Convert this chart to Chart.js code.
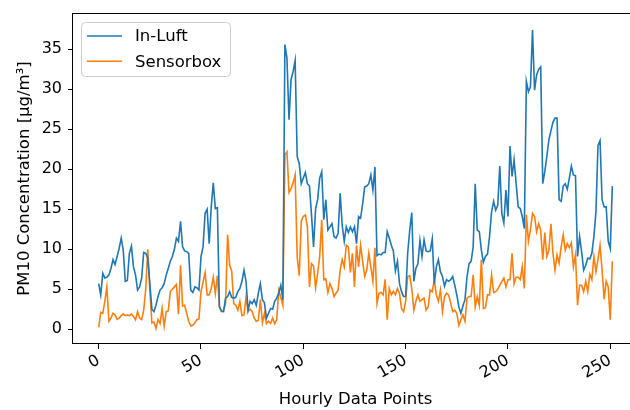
<!DOCTYPE html>
<html>
<head>
<meta charset="utf-8">
<script src="https://cdn.jsdelivr.net/npm/chart.js@4.4.1/dist/chart.umd.min.js"></script>
<style>
  html, body { margin: 0; padding: 0; background: #fff; overflow: hidden; }
  #wrap { width: 630px; height: 410px; overflow: hidden; }
</style>
</head>
<body>
<div id="wrap"><canvas id="pm" width="646" height="410"></canvas></div>
<script>
// hourly PM10 readings, one value per hour (index 0..251)
const inLuft = [
  5.7, 4.3, 7.0, 6.4, 6.5, 6.8, 7.6, 8.7, 8.1, 9.1,
  10.1, 11.4, 9.9, 6.0, 6.1, 9.5, 10.4, 7.8, 6.8, 4.9,
  5.3, 6.4, 9.6, 9.5, 8.9, 5.7, 2.5, 2.2, 3.0, 4.1,
  4.9, 5.2, 5.7, 6.8, 7.6, 8.5, 9.1, 10.0, 11.4, 11.0,
  13.5, 10.3, 9.8, 9.7, 9.5, 4.9, 4.6, 5.3, 5.2, 4.9,
  9.1, 10.3, 14.5, 15.0, 10.7, 15.3, 18.3, 15.1, 15.2, 2.8,
  2.3, 2.2, 3.9, 4.1, 4.7, 4.0, 3.9, 4.0, 4.7, 5.1,
  6.0, 7.4, 6.0, 2.4, 3.5, 3.2, 3.7, 3.0, 4.5, 5.7,
  3.7, 3.3, 1.4, 2.0, 2.6, 2.5, 3.5, 3.9, 4.5, 5.5,
  3.7, 35.6, 33.9, 26.2, 31.2, 32.2, 33.6, 21.6, 20.7, 18.2,
  18.9, 19.6, 18.2, 17.9, 14.3, 10.3, 15.1, 16.2, 18.9, 19.7,
  13.7, 16.2, 12.4, 12.8, 13.2, 11.6, 11.4, 12.0, 17.0, 13.0,
  11.0, 12.8, 12.1, 12.8, 12.2, 12.8, 10.7, 14.1, 13.9, 15.7,
  17.8, 17.9, 18.2, 19.3, 17.4, 20.3, 9.2, 9.4, 9.3, 9.6,
  9.6, 12.2, 11.4, 10.5, 9.8, 7.3, 8.5, 5.7, 4.7, 4.1,
  4.1, 9.5, 12.4, 14.6, 6.0, 7.6, 8.2, 11.1, 9.1, 11.2,
  9.8, 9.7, 9.8, 11.3, 5.7, 7.8, 8.7, 7.2, 6.6, 5.4,
  6.2, 6.0, 6.2, 6.6, 5.5, 4.3, 2.8, 2.0, 2.9, 3.7,
  6.6, 8.2, 8.5, 10.3, 18.2, 12.4, 12.2, 9.9, 8.4, 9.1,
  9.4, 11.6, 14.7, 16.0, 14.9, 15.5, 20.4, 14.5, 13.3, 17.4,
  14.1, 22.9, 19.1, 21.2, 18.2, 15.3, 15.1, 14.1, 12.6, 31.0,
  29.7, 30.3, 37.4, 29.9, 31.8, 32.5, 32.8, 18.2, 19.7, 21.6,
  23.7, 24.8, 25.9, 26.4, 26.4, 16.2, 16.0, 17.9, 18.2, 17.5,
  18.9, 20.4, 19.3, 19.2, 9.1, 11.6, 9.7, 7.4, 8.0, 8.9,
  8.8, 9.5, 11.6, 14.7, 23.0, 23.6, 16.2, 15.3, 15.3, 11.0,
  10.1, 17.9
];
const sensorbox = [
  0.25, 2.1, 2.0, 3.5, 5.3, 1.0, 1.4, 2.0, 1.8, 1.25,
  1.4, 1.7, 1.9, 1.7, 1.8, 1.7, 1.9, 1.6, 1.2, 2.2,
  1.4, 1.2, 2.4, 5.1, 10.0, 4.9, 0.8, 0.9, 0.1, 1.2,
  0.7, 2.6, 0.4, 2.2, 2.3, 4.7, 5.0, 5.3, 5.6, 1.9,
  8.0, 2.9, 3.0, 2.0, 1.0, 0.4, 0.5, 0.8, 1.2, 1.3,
  4.7, 5.9, 7.1, 4.3, 4.3, 5.1, 6.5, 4.5, 6.7, 2.8,
  2.2, 2.3, 3.2, 11.8, 8.0, 7.3, 3.2, 3.0, 2.4, 3.5,
  1.7, 1.8, 4.0, 2.2, 2.5, 2.2, 1.4, 1.0, 1.1, 3.7,
  0.8, 2.0, 0.7, 1.0, 0.75, 1.4, 0.7, 1.2, 4.9, 4.0,
  3.0, 21.8, 22.2, 17.1, 17.6, 18.3, 19.3, 9.1, 6.7, 13.5,
  14.1, 14.3, 12.8, 5.3, 8.2, 7.9, 5.2, 7.0, 9.1, 13.7,
  6.2, 6.3, 4.6, 5.7, 5.1, 4.1, 4.5, 4.9, 7.4, 8.7,
  7.8, 10.5, 10.3, 7.1, 9.5, 5.3, 10.5, 7.8, 10.5, 8.5,
  6.6, 7.4, 9.5, 7.8, 6.0, 10.2, 3.25, 4.5, 4.6, 4.3,
  6.25, 1.2, 5.1, 4.3, 4.75, 4.3, 5.1, 4.5, 2.6, 2.2,
  3.5, 6.6, 6.7, 5.1, 2.4, 3.5, 4.3, 3.5, 3.7, 3.9,
  2.4, 2.8, 4.9, 4.7, 6.2, 4.3, 3.5, 4.9, 2.2, 4.1,
  4.5, 4.3, 3.3, 2.2, 2.4, 2.0, 0.5, 1.2, 1.8, 1.0,
  3.9, 4.1, 4.1, 6.8, 2.8, 4.1, 3.0, 8.7, 2.6, 2.7,
  4.3, 4.3, 6.8, 4.6, 4.7, 5.0, 5.5, 6.0, 6.4, 5.3,
  6.2, 6.2, 9.5, 5.7, 6.5, 6.5, 6.2, 7.8, 5.1, 14.3,
  11.0, 12.5, 14.5, 14.1, 12.2, 13.2, 12.4, 8.7, 12.1, 9.1,
  9.9, 13.2, 9.5, 7.4, 9.3, 8.3, 10.3, 11.8, 9.9, 10.7,
  10.2, 10.8, 7.8, 9.3, 3.0, 5.5, 5.5, 4.7, 6.0, 4.7,
  6.9, 6.2, 9.1, 7.2, 8.75, 10.5, 7.4, 3.75, 6.0, 5.3,
  1.2, 8.5
];
const seriesNames = ['In-Luft', 'Sensorbox'];
const seriesColors = ['#1f77b4', '#ff7f0e'];
const xTicks = [0, 50, 100, 150, 200, 250];
const yTicks = [0, 5, 10, 15, 20, 25, 30, 35];
const xLabel = 'Hourly Data Points';
const yLabel = 'PM10 Concentration [µg/m³]';

const FONT = "'DejaVu Sans', sans-serif";
Chart.defaults.font.family = FONT;
Chart.defaults.color = '#000';

const toPoints = arr => arr.map((v, i) => ({ x: i, y: v }));

// black frame on all four sides of the plot area
const frame = {
  id: 'frame',
  afterDraw(chart) {
    const { ctx, chartArea: a } = chart;
    ctx.save();
    ctx.strokeStyle = '#000';
    ctx.lineWidth = 1;
    ctx.strokeRect(Math.round(a.left) - 0.5, Math.round(a.top) + 0.5,
      Math.round(a.right - a.left) + 1, Math.round(a.bottom - a.top) - 1);
    ctx.restore();
  }
};

// boxed legend in the upper left corner of the plot
const boxLegend = {
  id: 'boxLegend',
  afterDraw(chart) {
    const { ctx, chartArea } = chart;
    const x = chartArea.left + 8, y = chartArea.top + 9, w = 149, h = 54;
    ctx.save();
    ctx.beginPath();
    ctx.roundRect(x + 0.5, y + 0.5, w, h, 4);
    ctx.fillStyle = 'rgba(255,255,255,0.8)';
    ctx.fill();
    ctx.strokeStyle = '#cccccc';
    ctx.lineWidth = 1;
    ctx.stroke();
    ctx.font = '16.5px ' + FONT;
    ctx.textBaseline = 'middle';
    chart.data.datasets.forEach((ds, i) => {
      const ly = y + 14 + i * 25.3;
      ctx.strokeStyle = ds.borderColor;
      ctx.lineWidth = ds.borderWidth;
      ctx.beginPath();
      ctx.moveTo(x + 6, ly);
      ctx.lineTo(x + 41, ly);
      ctx.stroke();
      ctx.fillStyle = '#000';
      ctx.fillText(ds.label, x + 54, ly + 1);
    });
    ctx.restore();
  }
};

new Chart(document.getElementById('pm'), {
  type: 'line',
  data: {
    datasets: [inLuft, sensorbox].map((arr, i) => ({
      label: seriesNames[i],
      data: toPoints(arr),
      borderColor: seriesColors[i],
      borderWidth: 1.6,
      pointRadius: 0,
      tension: 0,
      fill: false
    }))
  },
  options: {
    responsive: false,
    animation: false,
    devicePixelRatio: 1,
    layout: { padding: { left: 0, right: 8, top: 13, bottom: 0 } },
    plugins: { legend: { display: false }, tooltip: { enabled: false } },
    scales: {
      x: {
        type: 'linear',
        min: -12.55,
        max: 263.55,
        afterBuildTicks: s => { s.ticks = xTicks.map(v => ({ value: v })); },
        afterFit: s => { s.height = 66; s.paddingLeft = 0; s.paddingRight = 0; },
        border: { display: false },
        grid: { drawOnChartArea: false, drawTicks: true, tickLength: 5, color: '#000', lineWidth: 1 },
        ticks: { autoSkip: false, minRotation: 30, maxRotation: 30, padding: 2, font: { size: 16 } },
        title: { display: true, text: xLabel, font: { size: 16.5 }, padding: { top: 0, bottom: 0 } }
      },
      y: {
        min: -1.84,
        max: 39.54,
        afterBuildTicks: s => { s.ticks = yTicks.map(v => ({ value: v })); },
        afterFit: s => { s.width = 73; s.paddingTop = 0; s.paddingBottom = 0; },
        border: { display: false },
        grid: { drawOnChartArea: false, drawTicks: true, tickLength: 5, color: '#000', lineWidth: 1 },
        ticks: { padding: 6, font: { size: 16 } },
        title: { display: true, text: yLabel, font: { size: 16.5 }, padding: { top: 15, bottom: 0 } }
      }
    }
  },
  plugins: [frame, boxLegend]
});
</script>
</body>
</html>
